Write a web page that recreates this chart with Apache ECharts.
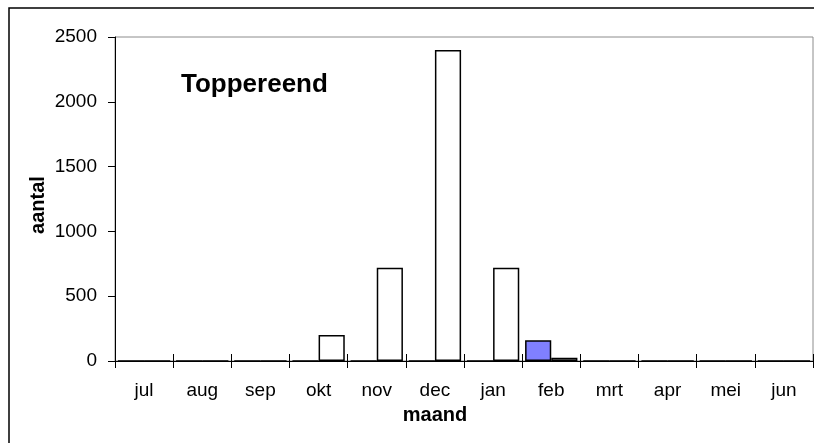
<!DOCTYPE html>
<html lang="nl">
<head>
    <meta charset="UTF-8">
    <title>Toppereend</title>
    <style>
        body {
            margin: 0;
            padding: 0;
            background-color: #fff;
        }
        #main {
            width: 814px;
            height: 443px;
        }
    </style>
</head>
<body>
<div id="main"></div>

<script src="https://cdn.jsdelivr.net/npm/echarts@6/dist/echarts.min.js"></script>
<script>
    const months = ['jul', 'aug', 'sep', 'okt', 'nov', 'dec', 'jan', 'feb', 'mrt', 'apr', 'mei', 'jun'];
    // blue series (left bar in each month)
    const blueCounts = [0, 0, 0, 0, 0, 0, 0, 160, 0, 0, 0, 0];
    // white series (right bar in each month)
    const whiteCounts = [0, 0, 0, 200, 720, 2400, 720, 25, 0, 0, 0, 0];
    const yTicks = { min: 0, max: 2500, interval: 500 };

    const font = 'Liberation Sans, Arial, sans-serif';
    const myChart = echarts.init(document.getElementById('main'));

    const option = {
        backgroundColor: '#fff',
        animation: false,
        grid: {
            left: 115,
            right: 1,
            top: 37,
            bottom: 82,
            show: true,
            borderColor: '#8c8c8c',
            borderWidth: 1
        },
        xAxis: [
            {
                type: 'category',
                data: months,
                axisLine: { lineStyle: { color: '#000', width: 1 } },
                axisTick: { show: true, length: 7, lineStyle: { color: '#000' } },
                axisLabel: { color: '#000', fontFamily: font, fontSize: 19, margin: 20 }
            },
            {
                // only used to draw the upper half of the crossing ticks
                type: 'category',
                data: months,
                position: 'bottom',
                axisLine: { show: false },
                axisTick: { show: true, inside: true, length: 7, lineStyle: { color: '#000' } },
                axisLabel: { show: false }
            }
        ],
        yAxis: {
            type: 'value',
            min: yTicks.min,
            max: yTicks.max,
            interval: yTicks.interval,
            name: 'aantal',
            nameLocation: 'middle',
            nameGap: 67,
            nameMoveOverlap: false,
            nameTextStyle: {
                color: '#000', fontFamily: font, fontSize: 20, fontWeight: 'bold',
                padding: [0, 12, 0, 0]
            },
            splitLine: { show: false },
            axisLine: { show: true, lineStyle: { color: '#000', width: 1 } },
            axisTick: { show: true, length: 7, lineStyle: { color: '#000' } },
            axisLabel: {
                color: '#000', fontFamily: font, fontSize: 19, margin: 18,
                formatter: v => String(v)
            }
        },
        series: [
            {
                name: 'blauw',
                type: 'bar',
                data: blueCounts,
                barGap: '0%',
                barCategoryGap: '10%',
                itemStyle: { color: '#8080ff', borderColor: '#000', borderWidth: 1.5 }
            },
            {
                name: 'wit',
                type: 'bar',
                data: whiteCounts,
                barGap: '0%',
                barCategoryGap: '10%',
                itemStyle: { color: '#fff', borderColor: '#000', borderWidth: 1.5 }
            }
        ],
        graphic: [
            {
                type: 'rect',
                shape: { x: 9, y: 8, width: 900, height: 500 },
                style: { fill: 'none', stroke: '#000', lineWidth: 1.5 },
                silent: true
            },
            {
                type: 'text',
                left: 181,
                top: 72,
                style: { text: 'Toppereend', fill: '#000', font: 'bold 26px ' + font }
            },
            {
                type: 'text',
                x: 435,
                y: 415,
                style: {
                    text: 'maand', fill: '#000', font: 'bold 20px ' + font,
                    align: 'center', verticalAlign: 'middle'
                }
            }
        ]
    };

    myChart.setOption(option);
</script>
</body>
</html>
